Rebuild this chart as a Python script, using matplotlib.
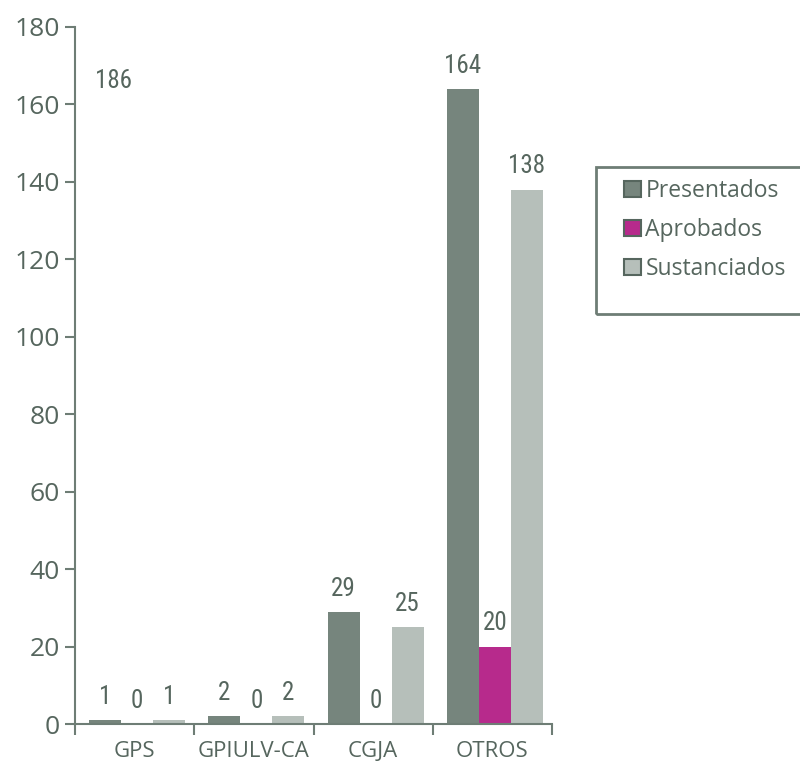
import matplotlib

matplotlib.use("Agg")
import matplotlib.pyplot as plt
import numpy as np
from matplotlib import font_manager
from matplotlib.patches import Rectangle


CATEGORIES = ["GPS", "GPIULV-CA", "CGJA", "OTROS"]
SERIES = ["Presentados", "Aprobados", "Sustanciados"]
PRESENTADOS = [1, 2, 29, 164]
APROBADOS = [0, 0, 0, 20]
SUSTANCIADOS = [1, 2, 25, 138]
Y_TICKS = [0, 20, 40, 60, 80, 100, 120, 140, 160, 180]
STRAY_LABEL = "186"
STRAY_POS = (-0.18, 166)

COLORS = ["#76857d", "#b72a8c", "#b6bfba"]
TEXT = "#56665e"
AXIS = "#6e7d75"
MAIN_FONT = ["Open Sans", "DejaVu Sans"]


def pick_font(candidates):
    for name in candidates:
        try:
            font_manager.findfont(name, fallback_to_default=False)
            return [name, "DejaVu Sans"]
        except ValueError:
            continue
    return ["DejaVu Sans"]


NARROW_FONT = pick_font(["Liberation Sans Narrow", "DejaVu Sans Condensed",
                         "Roboto Condensed", "Open Sans Condensed", "Roboto"])


def main():
    fig = plt.figure(figsize=(8, 7.66), dpi=100)
    ax = fig.add_axes([0.094, 0.0548, 0.596, 0.91])

    x = np.arange(len(CATEGORIES)) + 0.02
    width = 0.268
    values = [PRESENTADOS, APROBADOS, SUSTANCIADOS]

    for i, (name, vals) in enumerate(zip(SERIES, values)):
        pos = x + (i - 1) * width
        ax.bar(pos, vals, width, color=COLORS[i], label=name, zorder=2)
        for px, v in zip(pos, vals):
            ax.annotate(str(v), (px, v), xytext=(0, 8), textcoords="offset points",
                        ha="center", va="bottom", fontsize=18, color=TEXT,
                        family=NARROW_FONT, fontstretch="condensed")

    ax.text(STRAY_POS[0], STRAY_POS[1], STRAY_LABEL, ha="center", va="center",
            fontsize=18, color=TEXT, family=NARROW_FONT, fontstretch="condensed")

    ax.set_xlim(-0.5, len(CATEGORIES) - 0.5)
    ax.set_ylim(0, 180)
    ax.set_yticks(Y_TICKS)
    ax.set_yticklabels([str(t) for t in Y_TICKS], family=MAIN_FONT,
                       fontsize=19, color=TEXT)

    ax.set_xticks(np.arange(len(CATEGORIES)))
    ax.set_xticklabels(CATEGORIES, family=MAIN_FONT, fontsize=16, color=TEXT)
    ax.tick_params(axis="x", length=0, pad=12)
    ax.set_xticks(np.arange(len(CATEGORIES) + 1) - 0.5, minor=True)
    ax.tick_params(axis="x", which="minor", length=8, width=1.5, color=AXIS,
                   direction="out")
    ax.tick_params(axis="y", length=7, width=1.5, color=AXIS, pad=4)

    for side in ["top", "right"]:
        ax.spines[side].set_visible(False)
    for side in ["left", "bottom"]:
        ax.spines[side].set_color(AXIS)
        ax.spines[side].set_linewidth(1.5)

    handles = [Rectangle((0, 0), 1, 1, facecolor=c, edgecolor=TEXT, linewidth=1.5)
               for c in COLORS]
    fig.legend(handles, SERIES, loc="upper left", bbox_to_anchor=(0.766, 0.781),
               frameon=False, prop={"family": MAIN_FONT, "size": 16.5},
               labelcolor=TEXT, handlelength=0.72, handleheight=0.72,
               handletextpad=0.2, labelspacing=0.65, borderpad=0)
    fig.patches.append(Rectangle((0.745, 0.59), 0.3, 0.192, transform=fig.transFigure,
                                 facecolor="none", edgecolor=AXIS, linewidth=2))

    fig.savefig("out.png", dpi=100)
    plt.close(fig)


if __name__ == "__main__":
    main()
